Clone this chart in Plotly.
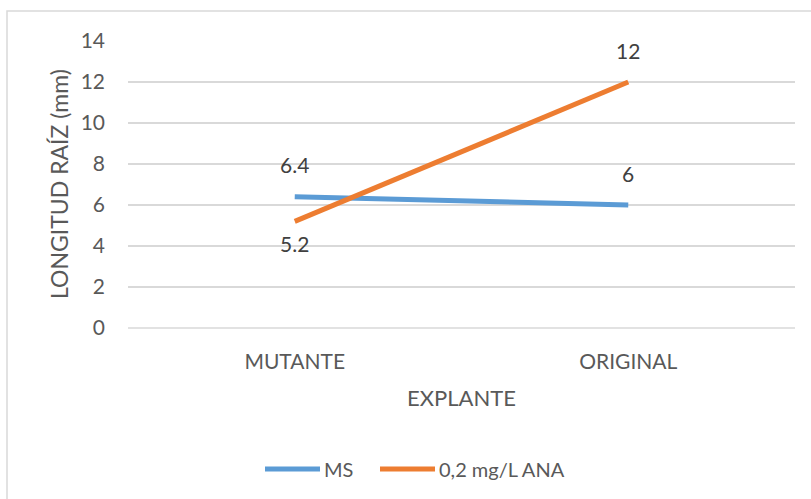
import plotly.graph_objects as go

categories = ["MUTANTE", "ORIGINAL"]
ms_values = [6.4, 6]
ana_values = [5.2, 12]
series_names = ["MS", "0,2 mg/L ANA"]
y_ticks = [0, 2, 4, 6, 8, 10, 12, 14]

BLUE = "#5B9BD5"
ORANGE = "#ED7D31"
TEXT = "#595959"
GRID = "#D9D9D9"
FONT = "Lato"


def px_x(p):
    return (p - 128) / 667


def px_y(p):
    return (328 - p) / 287


fig = go.Figure()
fig.add_trace(go.Scatter(x=categories, y=ms_values, mode="lines", name=series_names[0],
                         line=dict(color=BLUE, width=5), showlegend=False))
fig.add_trace(go.Scatter(x=categories, y=ana_values, mode="lines", name=series_names[1],
                         line=dict(color=ORANGE, width=5), showlegend=False))

annotations = []
for c, v in zip(categories, ms_values):
    annotations.append(dict(x=c, y=v, text=str(v), showarrow=False, yshift=32,
                            font=dict(family=FONT, size=21, color="#404040")))
shifts = [-22, 32]
for c, v, s in zip(categories, ana_values, shifts):
    annotations.append(dict(x=c, y=v, text=str(v), showarrow=False, yshift=s,
                            font=dict(family=FONT, size=21, color="#404040")))

# y-axis title
annotations.append(dict(xref="paper", yref="paper", x=px_x(59), y=px_y(184),
                        text="LONGITUD RAÍZ (mm)", textangle=-90, showarrow=False,
                        xanchor="center", yanchor="middle",
                        font=dict(family=FONT, size=23, color=TEXT)))

# manual legend (Excel style, long line samples)
legend_items = [(series_names[0], BLUE, 265, 320, 324), (series_names[1], ORANGE, 380, 435, 439)]
shapes = [
    dict(type="line", xref="paper", yref="paper", x0=0, x1=1, y0=0, y1=0,
         line=dict(color=GRID, width=1.5), layer="below"),
    dict(type="rect", xref="paper", yref="paper", x0=px_x(7), x1=1.2, y0=-0.8, y1=px_y(11),
         line=dict(color=GRID, width=1.5), layer="below"),
]
for name, col, a, b, t in legend_items:
    shapes.append(dict(type="line", xref="paper", yref="paper", x0=px_x(a), x1=px_x(b),
                       y0=px_y(469), y1=px_y(469), line=dict(color=col, width=5)))
    annotations.append(dict(xref="paper", yref="paper", x=px_x(t), y=px_y(469), text=name,
                            showarrow=False, xanchor="left", yanchor="middle", xshift=-2,
                            font=dict(family=FONT, size=20, color=TEXT)))

fig.update_layout(
    width=811, height=499,
    margin=dict(l=128, r=16, t=41, b=171),
    paper_bgcolor="white", plot_bgcolor="white",
    font=dict(family=FONT, size=20, color=TEXT),
    showlegend=False,
    annotations=annotations,
    shapes=shapes,
    xaxis=dict(type="category", range=[-0.5, 1.5], showgrid=False, zeroline=False,
               showline=False, ticks="", ticklabelstandoff=19,
               tickfont=dict(family=FONT, size=21, color=TEXT),
               title=dict(text="EXPLANTE", font=dict(family=FONT, size=22, color=TEXT), standoff=18)),
    yaxis=dict(range=[0, 14], tickvals=y_ticks, showgrid=True, gridcolor=GRID, gridwidth=1.5,
               zeroline=False, showline=False, ticks="", ticklabelstandoff=22,
               tickfont=dict(family=FONT, size=21, color=TEXT)),
)

fig.write_html("out.html")
